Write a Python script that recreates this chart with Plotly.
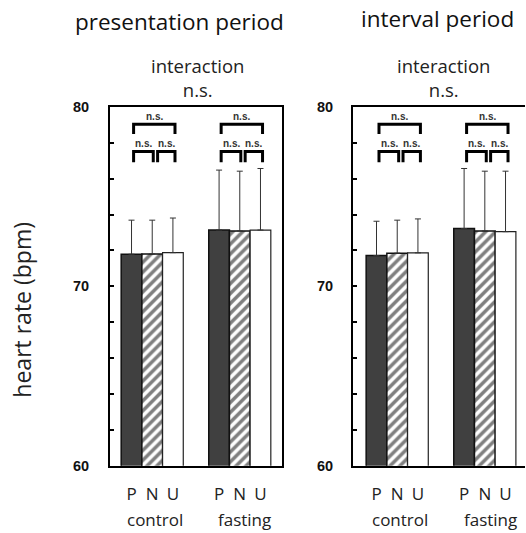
import plotly.graph_objects as go

# ---- data ----
conditions = ["P", "N", "U"]
groups = ["control", "fasting"]
panel_titles = ["presentation period", "interval period"]

pres_control = [71.79, 71.81, 71.88]
pres_control_err = [1.90, 1.88, 1.93]
pres_fasting = [73.14, 73.09, 73.14]
pres_fasting_err = [3.34, 3.33, 3.43]

int_control = [71.72, 71.85, 71.87]
int_control_err = [1.91, 1.84, 1.89]
int_fasting = [73.22, 73.09, 73.05]
int_fasting_err = [3.35, 3.33, 3.37]

y_tick_vals = [60, 70, 80]
stat_label = "n.s."
interaction_label = "interaction"
y_title = "heart rate (bpm)"

# ---- layout helpers ----
W, H = 526, 533
def px(x):
    return x / W
def py(y):
    return 1 - y / H

ctrl_pos = [0, 1, 2]
fast_pos = [4.23, 5.23, 6.23]

styles = [
    dict(color="#404040", line=dict(color="#111", width=1.5)),
    dict(color="white", line=dict(color="#111", width=1.5),
         pattern=dict(shape="/", fgcolor="black", bgcolor="white", size=7, solidity=0.5)),
    dict(color="white", line=dict(color="#222", width=1.2)),
]

panels = [
    (pres_control, pres_control_err, pres_fasting, pres_fasting_err, "x", "y"),
    (int_control, int_control_err, int_fasting, int_fasting_err, "x2", "y2"),
]

fig = go.Figure()
for (c, ce, f, fe, xa, ya) in panels:
    for i, cond in enumerate(conditions):
        fig.add_trace(go.Bar(
            x=[ctrl_pos[i], fast_pos[i]], y=[c[i], f[i]], width=1,
            marker=styles[i], name=cond, xaxis=xa, yaxis=ya,
            error_y=dict(type="data", array=[ce[i], fe[i]], arrayminus=[0, 0],
                         symmetric=False, color="#333", thickness=1, width=3),
            showlegend=False,
        ))

font_main = "Open Sans"
axis_common = dict(showgrid=False, zeroline=False, showline=True, linecolor="black",
                   linewidth=2)
xcommon = dict(axis_common, ticks="", tickvals=ctrl_pos + fast_pos,
               ticktext=conditions + conditions,
               tickfont=dict(family=font_main, size=17, color="#222"),
               ticklabelstandoff=12)
ycommon = dict(axis_common, range=[60, 80], tickvals=y_tick_vals, ticks="inside",
               ticklen=4, tickwidth=2, tickcolor="black",
               tickfont=dict(family="Liberation Sans", size=14.5, color="#111", weight="bold"),
               minor=dict(dtick=2, ticks="inside", ticklen=4, tickwidth=1.5,
                          tickcolor="black", showgrid=False))

fig.update_layout(
    width=W, height=H, margin=dict(l=0, r=0, t=0, b=0),
    paper_bgcolor="white", plot_bgcolor="white", barmode="overlay",
    showlegend=False,
    xaxis=dict(xcommon, domain=[px(110), px(282)], range=[-1.04, 7.27], mirror=True, anchor="y"),
    yaxis=dict(ycommon, domain=[py(472), py(102)], mirror=True, anchor="x",
               ticklabelstandoff=16),
    xaxis2=dict(xcommon, domain=[px(353), px(525)], range=[-1.135, 7.17], mirror=True, anchor="y2"),
    yaxis2=dict(ycommon, domain=[py(472), py(102)], mirror=False, anchor="x2",
                ticklabelstandoff=15),
)

# brackets
y_up_top, y_up_leg = 79.03, 78.49
y_lo_top, y_lo_leg = 77.51, 76.92
def bracket(xa, ya, x0, x1, ytop, yleg):
    fig.add_shape(type="path", xref=xa, yref=ya,
                  path=f"M {x0},{yleg} L {x0},{ytop} L {x1},{ytop} L {x1},{yleg}",
                  line=dict(color="black", width=3))

lab = dict(family="Liberation Sans", size=10, color="#333", weight="bold")
for xa, ya, off in [("x", "y", 0.1), ("x2", "y2", 0.12)]:
    for pos in (ctrl_pos, fast_pos):
        p, n, u = pos
        bracket(xa, ya, p + off, u + off, y_up_top, y_up_leg)
        bracket(xa, ya, p + off, n - 0.05 + off, y_lo_top, y_lo_leg)
        bracket(xa, ya, n + 0.16 + off, u + off, y_lo_top, y_lo_leg)
        fig.add_annotation(x=(p + u) / 2 + off, y=79.46, xref=xa, yref=ya, text=stat_label,
                           showarrow=False, font=lab, yanchor="middle")
        fig.add_annotation(x=(p + n) / 2 + off, y=77.95, xref=xa, yref=ya, text=stat_label,
                           showarrow=False, font=lab, yanchor="middle")
        fig.add_annotation(x=(n + u) / 2 + 0.08 + off, y=77.95, xref=xa, yref=ya, text=stat_label,
                           showarrow=False, font=lab, yanchor="middle")
    # group labels
    fig.add_annotation(x=1.12, y=py(527), xref=xa, yref="paper", text=groups[0],
                       showarrow=False, font=dict(family=font_main, size=17, color="#222"),
                       yanchor="middle")
    fig.add_annotation(x=5.48, y=py(527), xref=xa, yref="paper", text=groups[1],
                       showarrow=False, font=dict(family=font_main, size=17, color="#222"),
                       yanchor="middle")

tfont = dict(family=font_main, size=22.5, color="#111")
ifont = dict(family=font_main, size=18.5, color="#222")
for title, tx, ty, cx in [(panel_titles[0], 179, 14, 197), (panel_titles[1], 437, 11, 443)]:
    fig.add_annotation(x=px(tx), y=py(ty), xref="paper", yref="paper", text=title,
                       showarrow=False, font=tfont, xanchor="center", yanchor="middle")
    fig.add_annotation(x=px(cx), y=py(72), xref="paper", yref="paper",
                       text=interaction_label + "<br>" + stat_label,
                       showarrow=False, font=ifont, xanchor="center", yanchor="middle")

fig.add_annotation(x=px(22), y=py(311), xref="paper", yref="paper", text=y_title,
                   textangle=-90, showarrow=False,
                   font=dict(family=font_main, size=23, color="#222"),
                   xanchor="center", yanchor="middle")

fig.write_html("out.html")
